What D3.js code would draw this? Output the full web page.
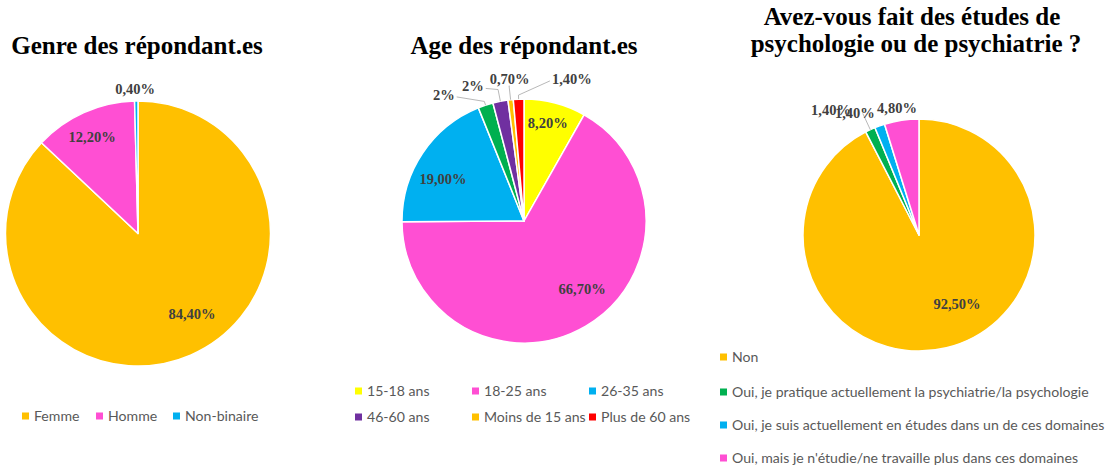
<!DOCTYPE html>
<html>
<head>
<meta charset="utf-8">
<script src="https://cdn.jsdelivr.net/npm/d3@7"></script>
<style>
  html, body { margin: 0; padding: 0; background: #fff; }
  svg { display: block; }
</style>
</head>
<body>
<svg id="chart" width="1113" height="465"></svg>
<script>
// ---- Data ----
const genreCategories = ["Femme", "Homme", "Non-binaire"];
const genreValues = [84.4, 12.2, 0.4];
const genreLabels = ["84,40%", "12,20%", "0,40%"];

const ageCategories = ["15-18 ans", "18-25 ans", "26-35 ans", "36-45 ans", "46-60 ans", "Moins de 15 ans", "Plus de 60 ans"];
const ageValues = [8.2, 66.7, 19.0, 2, 2, 0.7, 1.4];
const ageLabels = ["8,20%", "66,70%", "19,00%", "2%", "2%", "0,70%", "1,40%"];
const ageLegendItems = ["15-18 ans", "18-25 ans", "26-35 ans", "46-60 ans", "Moins de 15 ans", "Plus de 60 ans"];

const etudesCategories = [
  "Non",
  "Oui, je pratique actuellement la psychiatrie/la psychologie",
  "Oui, je suis actuellement en études dans un de ces domaines",
  "Oui, mais je n'étudie/ne travaille plus dans ces domaines"
];
const etudesValues = [92.5, 1.4, 1.4, 4.8];
const etudesLabels = ["92,50%", "1,40%", "1,40%", "4,80%"];

// ---- Colours ----
const genreColors = ["#FFC000", "#FF4FD3", "#00B0F0"];
const ageColors = ["#FFFF00", "#FF4FD3", "#00B0F0", "#00B050", "#7030A0", "#FFC000", "#FF0000"];
const etudesColors = ["#FFC000", "#00B050", "#00B0F0", "#FF4FD3"];

const svg = d3.select("#chart");
const titleFont = "'Liberation Serif', 'Times New Roman', serif";
const labelFont = "'Liberation Serif', 'Times New Roman', serif";
const legendFont = "Lato, 'Open Sans', sans-serif";

// Draw one pie with its data labels; layout gives centre, radius and label placement.
function drawPie(cfg) {
  const g = svg.append("g").attr("transform", `translate(${cfg.cx},${cfg.cy})`);
  const pie = d3.pie().sort(null).value(d => d)
    .startAngle(0).endAngle(2 * Math.PI);
  const arcs = pie(cfg.values);
  const arc = d3.arc().innerRadius(0).outerRadius(cfg.r);
  const colour = d3.scaleOrdinal().domain(cfg.categories).range(cfg.colors);

  g.selectAll("path.slice").data(arcs).enter().append("path")
    .attr("class", "slice")
    .attr("d", arc)
    .attr("fill", (d, i) => colour(cfg.categories[i]))
    .attr("stroke", "#fff")
    .attr("stroke-width", 1.5)
    .attr("stroke-linejoin", "round");

  const polar = (a, rad) => [Math.sin(a) * rad, -Math.cos(a) * rad];

  arcs.forEach((d, i) => {
    const p = cfg.place[i];
    const mid = (d.startAngle + d.endAngle) / 2;
    const base = polar(mid, cfg.r * p.k);
    const x = base[0] + p.dx, y = base[1] + p.dy;
    const t = g.append("text")
      .attr("x", x).attr("y", y)
      .attr("dy", "0.35em")
      .attr("text-anchor", "middle")
      .attr("font-family", labelFont)
      .attr("font-weight", "bold")
      .attr("font-size", 14.5)
      .attr("fill", "#404040")
      .text(cfg.labels[i]);
    if (p.leader) {
      const bb = t.node().getBBox();
      const edge = polar(mid, cfg.r);
      const outer = polar(mid, cfg.r + p.leader.ext);
      const pts = [edge, outer];
      if (p.leader.side === "right") pts.push([bb.x + bb.width + 2, bb.y + bb.height / 2 + 2]);
      if (p.leader.side === "left") pts.push([bb.x - 2, bb.y + bb.height / 2 + 2]);
      if (p.leader.side === "bottom") pts.push([x, bb.y + bb.height - 1]);
      g.insert("polyline", "text")
        .attr("points", pts.map(q => q.join(",")).join(" "))
        .attr("fill", "none")
        .attr("stroke", "#A6A6A6")
        .attr("stroke-width", 0.8);
    }
  });
}

function drawTitle(lines, cx, y0, lh) {
  const t = svg.append("text")
    .attr("text-anchor", "middle")
    .attr("font-family", titleFont)
    .attr("font-weight", "bold")
    .attr("font-size", 25)
    .attr("fill", "#000");
  lines.forEach((l, i) => {
    t.append("tspan").attr("x", cx[i]).attr("y", y0 + i * lh).text(l);
  });
}

function legendItem(x, y, colour, label) {
  svg.append("rect")
    .attr("x", x).attr("y", y - 3.5)
    .attr("width", 7).attr("height", 7)
    .attr("fill", colour);
  svg.append("text")
    .attr("x", x + 12).attr("y", y)
    .attr("dy", "0.35em")
    .attr("font-family", legendFont)
    .attr("font-size", 14.1)
    .attr("fill", "#595959")
    .text(label);
}

// ---- Genre ----
drawTitle(["Genre des répondant.es"], [137], 54, 0);
drawPie({
  cx: 138, cy: 233.5, r: 132.5,
  values: genreValues, categories: genreCategories, colors: genreColors, labels: genreLabels,
  place: [
    { k: 0.73, dx: 15.6, dy: -8.3 },
    { k: 0.81, dx: -2, dy: 1.4 },
    { k: 1.09, dx: -1, dy: 0 }
  ]
});
const genreColour = d3.scaleOrdinal().domain(genreCategories).range(genreColors);
const genreLegendX = [22, 96, 173];
genreCategories.forEach((c, i) => legendItem(genreLegendX[i], 416, genreColour(c), c));

// ---- Age ----
drawTitle(["Age des répondant.es"], [524], 54, 0);
drawPie({
  cx: 524, cy: 221, r: 122,
  values: ageValues, categories: ageCategories, colors: ageColors, labels: ageLabels,
  place: [
    { k: 0.83, dx: -2, dy: 0 },
    { k: 0.73, dx: 13, dy: -9 },
    { k: 0.75, dx: -5, dy: 9 },
    { k: 1.15, dx: -36, dy: 7, leader: { ext: 4, side: "right" } },
    { k: 1.15, dx: -24, dy: 3, leader: { ext: 12, side: "right" } },
    { k: 1.15, dx: 1, dy: -2.5, leader: { ext: 14, side: "bottom" } },
    { k: 1.15, dx: 54, dy: -2, leader: { ext: 4, side: "left" } }
  ]
});
const ageColour = d3.scaleOrdinal().domain(ageCategories).range(ageColors);
const ageLegendX = [355, 472, 589];
const ageLegendY = [391, 417];
ageLegendItems.forEach((c, i) =>
  legendItem(ageLegendX[i % 3], ageLegendY[Math.floor(i / 3)], ageColour(c), c));

// ---- Études ----
drawTitle(["Avez-vous fait des études de", "psychologie ou de psychiatrie ?"], [912, 916], 25, 27);
drawPie({
  cx: 919, cy: 235, r: 116,
  values: etudesValues, categories: etudesCategories, colors: etudesColors, labels: etudesLabels,
  place: [
    { k: 0.68, dx: 19.4, dy: -7.7 },
    { k: 1.15, dx: -32, dy: -4, leader: { ext: 18, side: null } },
    { k: 1.15, dx: -19, dy: 3.5 },
    { k: 1.15, dx: -2, dy: 5 }
  ]
});
const etudesColour = d3.scaleOrdinal().domain(etudesCategories).range(etudesColors);
const etudesLegendY = [357, 392, 425, 458];
etudesCategories.forEach((c, i) => legendItem(720, etudesLegendY[i], etudesColour(c), c));
</script>
</body>
</html>
